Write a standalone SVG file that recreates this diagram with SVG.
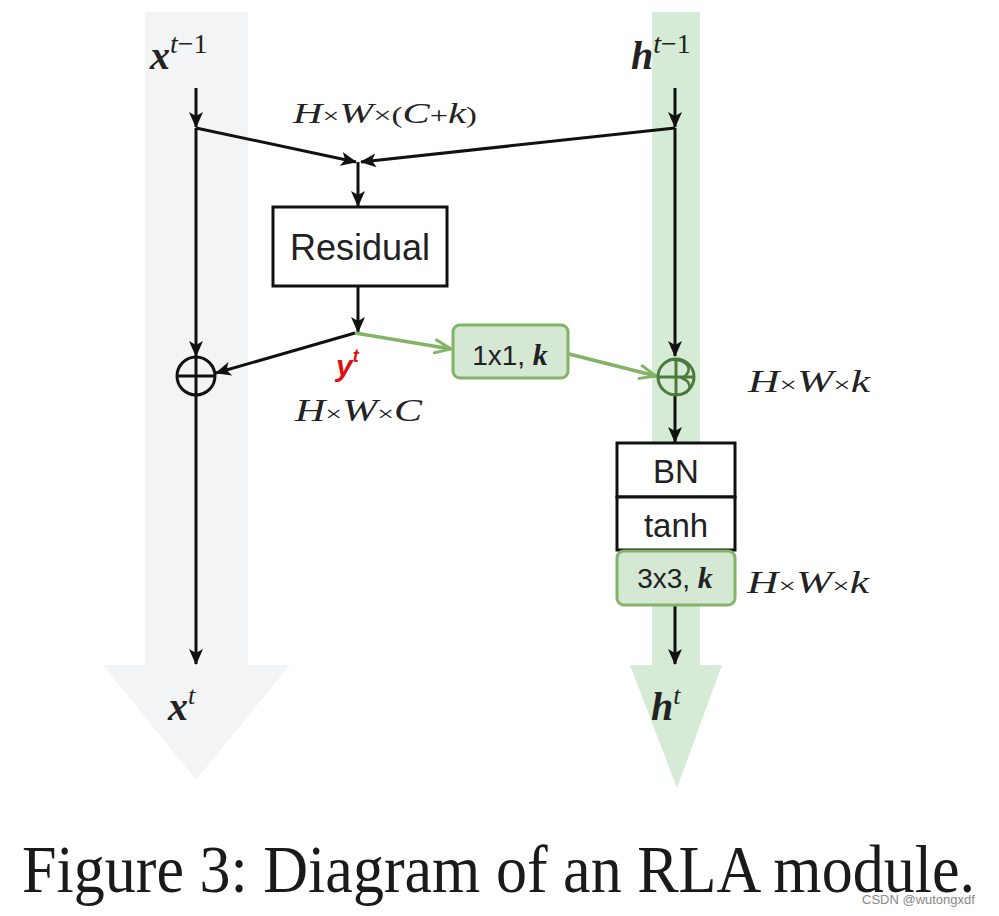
<svg xmlns="http://www.w3.org/2000/svg" width="999" height="916" viewBox="0 0 999 916">
<defs>
<style>
.ln{stroke:#111;stroke-width:3;fill:none}
.gl{stroke:#82b366;stroke-width:3.5;fill:none}
.box{fill:#fff;stroke:#111;stroke-width:3}
.gbox{fill:#d5e8d4;stroke:#82b366;stroke-width:3}
.sans{font-family:"Liberation Sans",Arial,sans-serif;fill:#222}
.math{font-family:"Liberation Serif","Times New Roman",serif;font-style:italic;fill:#222}
.up{font-style:normal}
</style>
<marker id="arr" viewBox="0 0 16 14" refX="15" refY="7" markerWidth="16" markerHeight="14" orient="auto" markerUnits="userSpaceOnUse">
<path d="M0,0 L16,7 L0,14 L4,7 Z" fill="#111"/>
</marker>
<marker id="garr" viewBox="0 0 20 16" refX="18" refY="8" markerWidth="20" markerHeight="16" orient="auto" markerUnits="userSpaceOnUse">
<path d="M1,1 L18,8 L1,15" fill="none" stroke="#82b366" stroke-width="3"/>
</marker>
</defs>
<rect width="999" height="916" fill="#fff"/>

<g id="band-x">
<path d="M145,12 L248,12 L248,665 L290,665 L196,780 L103,665 L145,665 Z" fill="#f3f4f6"/>
</g>
<g id="band-h">
<path d="M652,12 L700,12 L700,665 L722,665 L677,788 L630,665 L652,665 Z" fill="#d5ebd6"/>
</g>

<g id="connectors">
<line class="ln" x1="196" y1="88" x2="196" y2="127" marker-end="url(#arr)"/>
<line class="ln" x1="196" y1="128" x2="196" y2="356" marker-end="url(#arr)"/>
<line class="ln" x1="196" y1="395" x2="196" y2="664" marker-end="url(#arr)"/>
<line class="ln" x1="675" y1="88" x2="675" y2="127" marker-end="url(#arr)"/>
<line class="ln" x1="675" y1="128" x2="675" y2="356" marker-end="url(#arr)"/>
<line class="ln" x1="675" y1="396" x2="675" y2="442" marker-end="url(#arr)"/>
<line class="ln" x1="675" y1="605" x2="675" y2="664" marker-end="url(#arr)"/>
<line class="ln" x1="196" y1="128" x2="356" y2="162" marker-end="url(#arr)"/>
<line class="ln" x1="675" y1="128" x2="361" y2="162" marker-end="url(#arr)"/>
<line class="ln" x1="358" y1="162" x2="358" y2="206" marker-end="url(#arr)"/>
<line class="ln" x1="358" y1="286" x2="358" y2="332" marker-end="url(#arr)"/>
<line class="ln" x1="355" y1="333" x2="216" y2="373" marker-end="url(#arr)"/>
<path class="gl" d="M355,333 L451,349" marker-end="url(#garr)"/>
<path class="gl" d="M569,354 L656,376" marker-end="url(#garr)"/>
</g>

<g id="plus-x">
<circle cx="196" cy="376" r="19" fill="none" stroke="#111" stroke-width="3"/>
<line class="ln" x1="177" y1="376" x2="215" y2="376"/>
<line class="ln" x1="196" y1="357" x2="196" y2="395"/>
</g>
<g id="plus-h">
<circle cx="676" cy="377" r="18" fill="none" stroke="#4b7a3a" stroke-width="3"/>
<path d="M668,360 C690,358 694,372 682,378 C696,384 690,398 670,394" fill="none" stroke="#4b7a3a" stroke-width="2.5"/>
<line x1="658" y1="377" x2="694" y2="377" stroke="#4b7a3a" stroke-width="3"/>
<line x1="676" y1="359" x2="676" y2="395" stroke="#4b7a3a" stroke-width="3"/>
</g>

<g id="residual">
<rect class="box" x="273" y="207" width="174" height="79"/>
<text class="sans" x="360" y="260" font-size="36" text-anchor="middle">Residual</text>
</g>

<g id="conv1x1">
<rect class="gbox" x="453" y="325" width="115" height="53" rx="7"/>
<text class="sans" x="510" y="365" font-size="28" text-anchor="middle">1x1, <tspan class="math" font-weight="bold" font-size="30">k</tspan></text>
</g>

<g id="bn">
<rect class="box" x="617" y="443" width="118" height="54"/>
<text class="sans" x="676" y="483" font-size="33" text-anchor="middle">BN</text>
</g>
<g id="tanh">
<rect class="box" x="617" y="497" width="118" height="53"/>
<text class="sans" x="676" y="537" font-size="33" text-anchor="middle">tanh</text>
</g>
<g id="conv3x3">
<rect class="gbox" x="617" y="551" width="118" height="54" rx="7"/>
<text class="sans" x="675" y="588" font-size="28" text-anchor="middle">3x3, <tspan class="math" font-weight="bold" font-size="30">k</tspan></text>
</g>

<g id="labels">
<text class="math" x="150" y="69" font-size="40" font-weight="bold">x<tspan font-size="28" font-weight="normal" dy="-16">t</tspan><tspan font-size="28" font-weight="normal" class="up">−1</tspan></text>
<text class="math" x="631" y="69" font-size="40" font-weight="bold">h<tspan font-size="28" font-weight="normal" dy="-16">t</tspan><tspan font-size="28" font-weight="normal" class="up">−1</tspan></text>
<text class="math" x="168" y="720" font-size="40" font-weight="bold">x<tspan font-size="26" font-weight="normal" dy="-16">t</tspan></text>
<text class="math" x="651" y="720" font-size="40" font-weight="bold">h<tspan font-size="26" font-weight="normal" dy="-16">t</tspan></text>
<text class="math" x="293" y="123" font-size="30" textLength="184" lengthAdjust="spacingAndGlyphs">H<tspan class="up" font-size="22">×</tspan>W<tspan class="up" font-size="24">×(</tspan>C<tspan class="up" font-size="24">+</tspan>k<tspan class="up" font-size="24">)</tspan></text>
<text class="math" x="295" y="421" font-size="31" textLength="127" lengthAdjust="spacingAndGlyphs">H<tspan class="up" font-size="22">×</tspan>W<tspan class="up" font-size="22">×</tspan>C</text>
<text class="math" x="748" y="392" font-size="31" textLength="122" lengthAdjust="spacingAndGlyphs">H<tspan class="up" font-size="22">×</tspan>W<tspan class="up" font-size="22">×</tspan>k</text>
<text class="math" x="747" y="593" font-size="31" textLength="122" lengthAdjust="spacingAndGlyphs">H<tspan class="up" font-size="22">×</tspan>W<tspan class="up" font-size="22">×</tspan>k</text>
<text x="336" y="376" font-family="Liberation Sans,Arial,sans-serif" font-weight="bold" font-style="italic" font-size="30" fill="#e01010">y<tspan font-size="18" dy="-14">t</tspan></text>
</g>

<g id="caption">
<text x="22" y="892" font-family="Liberation Serif,'Times New Roman',serif" font-size="68" fill="#1a1a1a" textLength="953" lengthAdjust="spacingAndGlyphs">Figure 3: Diagram of an RLA module.</text>
<text x="862" y="904" font-family="Liberation Sans,Arial,sans-serif" font-size="13" fill="#888">CSDN @wutongxdf</text>
</g>
</svg>
